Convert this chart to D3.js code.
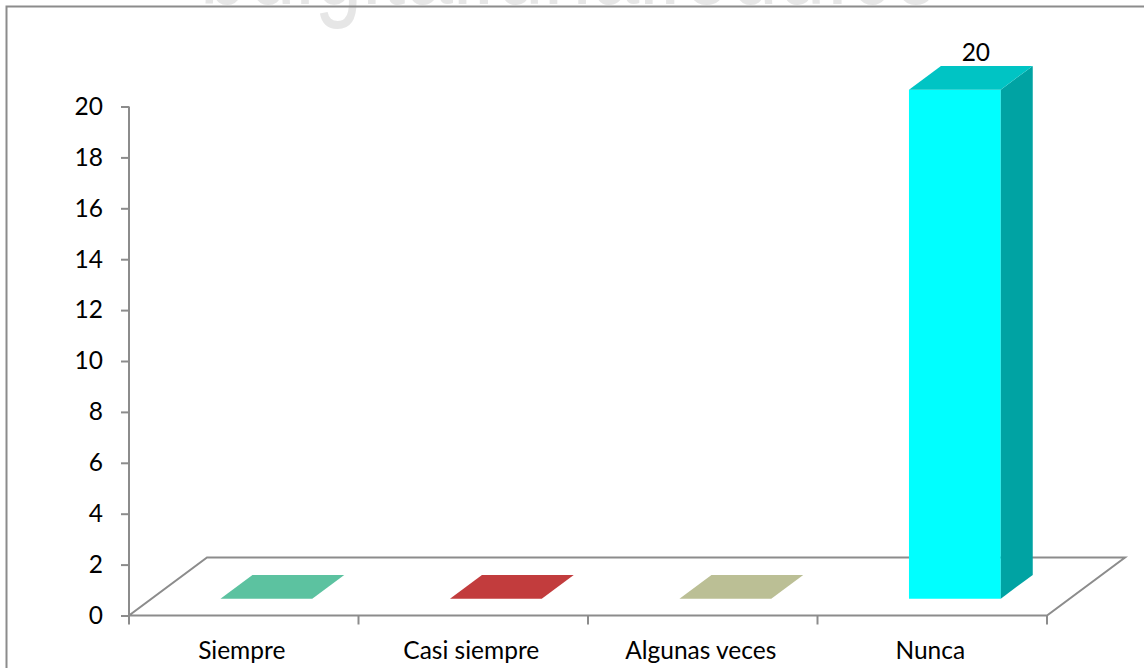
<!DOCTYPE html>
<html>
<head>
<meta charset="utf-8">
<script src="https://cdn.jsdelivr.net/npm/d3@7"></script>
<style>
  html, body { margin: 0; padding: 0; background: #ffffff; }
  svg { display: block; }
</style>
</head>
<body>
<svg id="chart" width="1144" height="668"></svg>
<script>
// Survey answers and counts
const categories = ["Siempre", "Casi siempre", "Algunas veces", "Nunca"];
const values = [0, 0, 0, 20];
const labelShown = [false, false, false, true];

// Face colours per category: front, top, side
const frontColors = ["#6fd3b0", "#d44a4a", "#cdd1a6", "#00ffff"];
const topColors   = ["#5cc2a0", "#c23c3d", "#bbbf95", "#00c4c4"];
const sideColors  = ["#4aa585", "#9e2f30", "#9a9e78", "#00a3a3"];

const yTicks = [0, 2, 4, 6, 8, 10, 12, 14, 16, 18, 20];

const svg = d3.select("#chart");
const W = 1144, H = 668;

// Plot geometry (front plane of the floor)
const x0 = 129, x1 = 1047;
const yBase = 615.5, yTop = 106.5;
// Floor depth vector (oblique projection)
const depth = { dx: 78, dy: -58 };
// Bar occupies this slice of the floor depth
const t0 = 0.29, t1 = 0.70;
const barFrac = 0.40;

const x = d3.scaleBand().domain(categories).range([x0, x1]).padding(0);
const y = d3.scaleLinear().domain([0, 20]).range([yBase, yTop]);

const FONT = "Lato, 'Open Sans', sans-serif";
const FS = 24.5;
const axisGray = "#8c8c8c";

// Faint site watermark along the top edge
svg.append("text")
  .attr("x", 200).attr("y", 4)
  .attr("textLength", 740)
  .attr("lengthAdjust", "spacingAndGlyphs")
  .attr("font-family", "'Liberation Sans', Arial, sans-serif")
  .attr("font-size", 118)
  .attr("fill", "#e6e6e6")
  .text("bdigital.unal.edu.co");

// Outer chart frame
svg.append("rect")
  .attr("x", 6.5).attr("y", 6.5)
  .attr("width", W + 20).attr("height", H + 20)
  .attr("fill", "none")
  .attr("stroke", axisGray)
  .attr("stroke-width", 2);

const P = (px, py, t) => [px + depth.dx * t, py + depth.dy * t];

// Floor outline
const floor = [P(x0, yBase, 0), P(x1, yBase, 0), P(x1, yBase, 1), P(x0, yBase, 1)];
svg.append("path")
  .attr("d", "M" + floor.map(p => p.join(",")).join("L") + "Z")
  .attr("fill", "none")
  .attr("stroke", axisGray)
  .attr("stroke-width", 2)
  .attr("stroke-linejoin", "miter");

// Value axis
const yAxis = svg.append("g")
  .attr("transform", `translate(${x0},0)`)
  .call(d3.axisLeft(y).tickValues(yTicks).tickSize(8).tickPadding(18).tickFormat(d3.format("d")));
yAxis.select(".domain").attr("stroke", axisGray).attr("stroke-width", 2).attr("d", `M0,${yTop}V${yBase}`);
yAxis.selectAll(".tick line").attr("stroke", axisGray).attr("stroke-width", 2);
yAxis.selectAll(".tick text")
  .attr("font-family", FONT).attr("font-size", FS).attr("fill", "#000");

// Category axis: ticks at band boundaries, labels under band centres
const bounds = categories.map(c => x(c)).concat([x1]);
svg.append("g").selectAll("line").data(bounds).join("line")
  .attr("x1", d => d).attr("x2", d => d)
  .attr("y1", yBase).attr("y2", yBase + 9)
  .attr("stroke", axisGray).attr("stroke-width", 2);

svg.append("g").selectAll("text").data(categories).join("text")
  .attr("x", d => x(d) + x.bandwidth() / 2 - 2)
  .attr("y", 659)
  .attr("text-anchor", "middle")
  .attr("font-family", FONT).attr("font-size", FS).attr("fill", "#000")
  .text(d => d);

// 3D bars
const bw = x.bandwidth() * barFrac;
const bars = svg.append("g");
categories.forEach((c, i) => {
  const left = x(c) + (x.bandwidth() - bw) / 2;
  const right = left + bw;
  const yb = y(0), yv = y(values[i]);
  const poly = pts => "M" + pts.map(p => p.join(",")).join("L") + "Z";
  const g = bars.append("g");
  if (values[i] > 0) {
    // front face
    g.append("path")
      .attr("d", poly([P(left, yb, t0), P(right, yb, t0), P(right, yv, t0), P(left, yv, t0)]))
      .attr("fill", frontColors[i]);
    // side face
    g.append("path")
      .attr("d", poly([P(right, yb, t0), P(right, yb, t1), P(right, yv, t1), P(right, yv, t0)]))
      .attr("fill", sideColors[i]);
  }
  // top face
  g.append("path")
    .attr("d", poly([P(left, yv, t0), P(right, yv, t0), P(right, yv, t1), P(left, yv, t1)]))
    .attr("fill", topColors[i]);

  if (labelShown[i]) {
    const mid = P((left + right) / 2, yv, (t0 + t1) / 2);
    g.append("text")
      .attr("x", mid[0] + 5)
      .attr("y", mid[1] - 17)
      .attr("text-anchor", "middle")
      .attr("font-family", FONT).attr("font-size", FS).attr("fill", "#000")
      .text(values[i]);
  }
});
</script>
</body>
</html>
